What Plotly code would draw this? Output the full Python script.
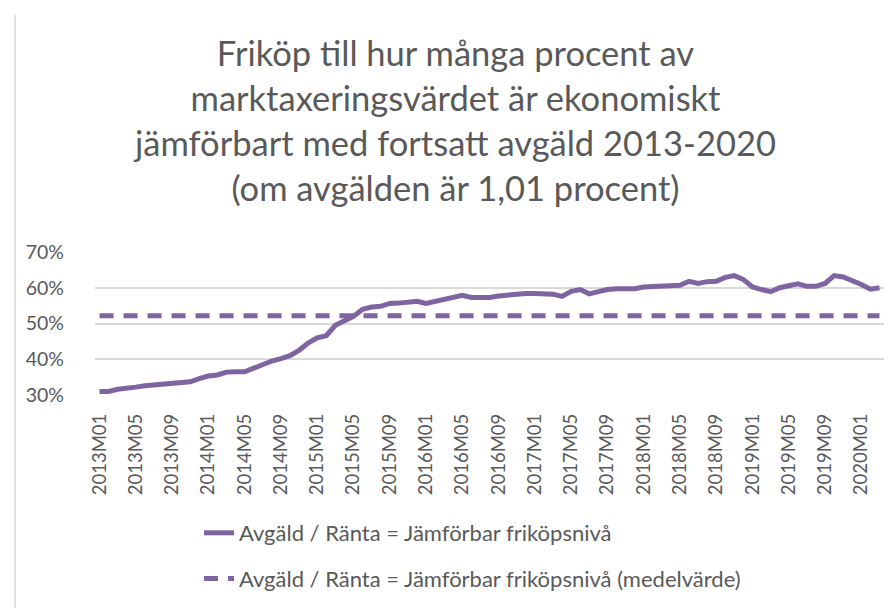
import plotly.graph_objects as go

# Monthly categories 2013M01 .. 2020M03
months = [f"{y}M{m:02d}" for y in range(2013, 2021) for m in range(1, 13)][:87]

# Avgäld / Ränta = Jämförbar friköpsnivå (share)
values = [
    0.310, 0.310, 0.316, 0.318, 0.322, 0.326, 0.328, 0.332, 0.333, 0.333,
    0.337, 0.346, 0.353, 0.356, 0.364, 0.365, 0.365, 0.375, 0.386, 0.395,
    0.402, 0.410, 0.425, 0.445, 0.460, 0.466, 0.495, 0.508, 0.520, 0.540,
    0.546, 0.548, 0.556, 0.557, 0.558, 0.562, 0.556, 0.562, 0.568, 0.574,
    0.579, 0.573, 0.573, 0.573, 0.577, 0.579, 0.584, 0.584, 0.584, 0.584,
    0.582, 0.576, 0.590, 0.595, 0.583, 0.589, 0.595, 0.597, 0.597, 0.597,
    0.602, 0.603, 0.603, 0.603, 0.607, 0.618, 0.612, 0.617, 0.618, 0.629,
    0.634, 0.623, 0.602, 0.595, 0.589, 0.600, 0.606, 0.611, 0.604, 0.604,
    0.612, 0.634, 0.630, 0.620, 0.609, 0.596, 0.600,
]

# Mean level (medelvärde)
mean_value = 0.522
mean_values = [mean_value] * len(months)

tick_labels = months[::4]

title_lines = [
    "Friköp till hur många procent av",
    "marktaxeringsvärdet är ekonomiskt",
    "jämförbart med fortsatt avgäld 2013-2020",
    "(om avgälden är 1,01 procent)",
]

series_names = [
    "Avgäld / Ränta = Jämförbar friköpsnivå",
    "Avgäld / Ränta = Jämförbar friköpsnivå (medelvärde)",
]

purple = "#8064A2"
grey_text = "#595959"
font_family = "Lato, 'Open Sans', sans-serif"

fig = go.Figure()
fig.add_trace(go.Scatter(
    x=months, y=values, mode="lines", name=series_names[0],
    line=dict(color=purple, width=5), legendgroup="a",
))
fig.add_trace(go.Scatter(
    x=months, y=mean_values, mode="lines", name=series_names[1],
    line=dict(color=purple, width=5, dash="14px,10px"), legendgroup="b",
))

W, H = 895, 608
L, R, T, B = 87, 19, 244, 221
PW, PH = W - L - R, H - T - B

fig.update_layout(
    width=W, height=H,
    margin=dict(l=L, r=R, t=T, b=B, autoexpand=False),
    paper_bgcolor="white", plot_bgcolor="white",
    font=dict(family=font_family, color=grey_text),
    title=dict(
        text="<br>".join(title_lines),
        x=0.5, xanchor="center", xref="container",
        y=1 - 58 / H, yanchor="top", yref="container",
        font=dict(size=34.5, color=grey_text, family=font_family),
    ),
    showlegend=True,
    legend=dict(
        xref="container", yref="container",
        x=191 / W, xanchor="left",
        y=1 - 504 / H, yanchor="top",
        font=dict(size=22, color=grey_text, family=font_family),
        tracegroupgap=14,
        bgcolor="rgba(0,0,0,0)",
    ),
    xaxis=dict(
        type="category",
        tickmode="array", tickvals=tick_labels, ticktext=tick_labels,
        tickangle=-90,
        tickfont=dict(size=18.5, color=grey_text),
        showgrid=False, showline=False, zeroline=False,
        ticks="", ticklabelstandoff=14, automargin=False,
        range=[-0.5, len(months) - 0.5],
    ),
    yaxis=dict(
        range=[0.30, 0.70],
        tickvals=[0.30, 0.40, 0.50, 0.60, 0.70],
        tickformat=".0%",
        tickfont=dict(size=19.5, color=grey_text),
        showgrid=True, gridcolor="#D9D9D9", gridwidth=1.5,
        zeroline=False, showline=False, ticks="",
        ticklabelstandoff=30, automargin=False,
    ),
)

# chart area border (left edge visible in reference)
fig.add_shape(
    type="line", xref="paper", yref="paper",
    x0=(7 - L) / PW, x1=(7 - L) / PW,
    y0=-(B + 10) / PH, y1=(H - B - 7) / PH,
    line=dict(color="#D9D9D9", width=1.5),
)

fig.write_html("out.html")
